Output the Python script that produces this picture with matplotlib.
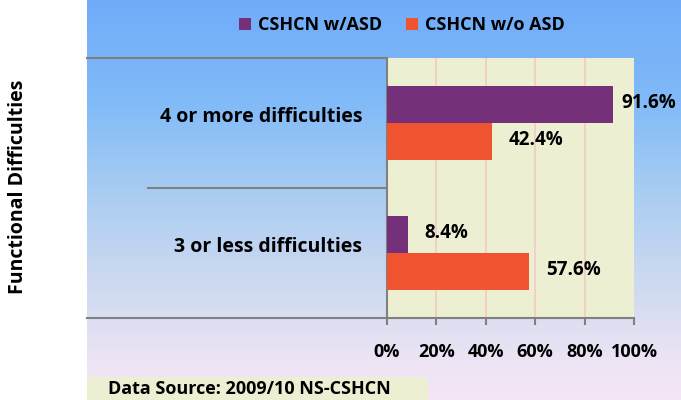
import numpy as np
import matplotlib.pyplot as plt
from matplotlib.patches import Rectangle

categories = ["3 or less difficulties", "4 or more difficulties"]
with_asd = [8.4, 91.6]
without_asd = [57.6, 42.4]
series_names = ["CSHCN w/ASD", "CSHCN w/o ASD"]
xticks = [0, 20, 40, 60, 80, 100]
xtick_labels = ["0%", "20%", "40%", "60%", "80%", "100%"]

purple = "#74317A"
orange = "#EF532F"
plot_bg = "#EDEFD3"
grid_col = "#F6C9C6"
line_col = "#808080"

plt.rcParams['font.family'] = ['Open Sans', 'DejaVu Sans']
plt.rcParams['font.weight'] = 'bold'

W, H = 681, 400
fig = plt.figure(figsize=(W / 100, H / 100), dpi=100)
fig.patch.set_facecolor("white")

# gradient background (blue -> pink), right of the white strip
bg = fig.add_axes([87 / W, 0, 1 - 87 / W, 1], zorder=0)
stops_y = [0, 100, 190, 300, 360, 400]
stops_c = np.array([[112, 172, 250], [128, 186, 248], [168, 204, 242],
                    [212, 220, 240], [236, 228, 244], [244, 230, 246]]) / 255
yy = np.linspace(0, 400, 400)
grad = np.stack([np.interp(yy, stops_y, stops_c[:, k]) for k in range(3)], axis=1)
bg.imshow(grad[:, None, :], aspect='auto', extent=[0, 1, 1, 0])
bg.axis('off')

# main plot
ax = fig.add_axes([387 / W, 1 - 318 / H, (634 - 387) / W, 260 / H], zorder=2)
ax.set_facecolor(plot_bg)
y = np.arange(len(categories))
h = 0.285
b1 = ax.barh(y + h / 2, with_asd, height=h, color=purple, label=series_names[0], zorder=3)
b2 = ax.barh(y - h / 2, without_asd, height=h, color=orange, label=series_names[1], zorder=3)
ax.set_xlim(0, 100)
ax.set_ylim(-0.5, 1.5)
ax.set_xticks(xticks)
ax.set_xticklabels(xtick_labels, fontsize=13, fontweight='bold')
ax.set_yticks([])
ax.tick_params(axis='x', direction='out', length=5, color=line_col, width=1.5, pad=13)
for x in xticks[1:-1]:
    ax.axvline(x, color=grid_col, lw=1.2, zorder=1)
for s in ['top', 'right']:
    ax.spines[s].set_visible(False)
for s in ['left', 'bottom']:
    ax.spines[s].set_color(line_col)
    ax.spines[s].set_linewidth(1.5)

for bars, vals in [(b1, with_asd), (b2, without_asd)]:
    for bar, v in zip(bars, vals):
        off = 6 if v > 85 else 12
        ax.annotate(f"{v:.1f}%", (v, bar.get_y() + bar.get_height() / 2),
                    xytext=(off, 1), textcoords='offset points',
                    ha='left', va='center', fontsize=13.5, fontweight='bold')

for yi, cat in zip(y, categories):
    ax.annotate(cat, (0, yi), xytext=(-18, 4), textcoords='offset points',
                ha='right', va='center', fontsize=14, fontweight='bold')

# overlay for the table lines and the source box (pixel coords)
ov = fig.add_axes([0, 0, 1, 1], zorder=3)
ov.set_xlim(0, W)
ov.set_ylim(H, 0)
ov.patch.set_alpha(0)
ov.axis('off')
ov.plot([87, 387], [58, 58], color=line_col, lw=1.5)
ov.plot([148, 387], [188, 188], color=line_col, lw=1.5)
ov.plot([87, 387], [318, 318], color=line_col, lw=1.5)
ov.add_patch(Rectangle((87, 377), 341, 30, color=plot_bg, lw=0))
ov.text(108, 389, "Data Source: 2009/10 NS-CSHCN", ha='left', va='center',
        fontsize=13, fontweight='bold')

fig.text(18 / W, 1 - 187 / H, "Functional Difficulties", rotation=90,
         ha='center', va='center', fontsize=14, fontweight='bold')

fig.legend(handles=[b1, b2], loc='center', bbox_to_anchor=(402 / W, 1 - 25 / H),
           ncol=2, frameon=False, handlelength=0.65, handleheight=0.65,
           handletextpad=0.4, columnspacing=1.3,
           prop={'size': 13, 'weight': 'bold'})

fig.savefig("out.png", dpi=100)
